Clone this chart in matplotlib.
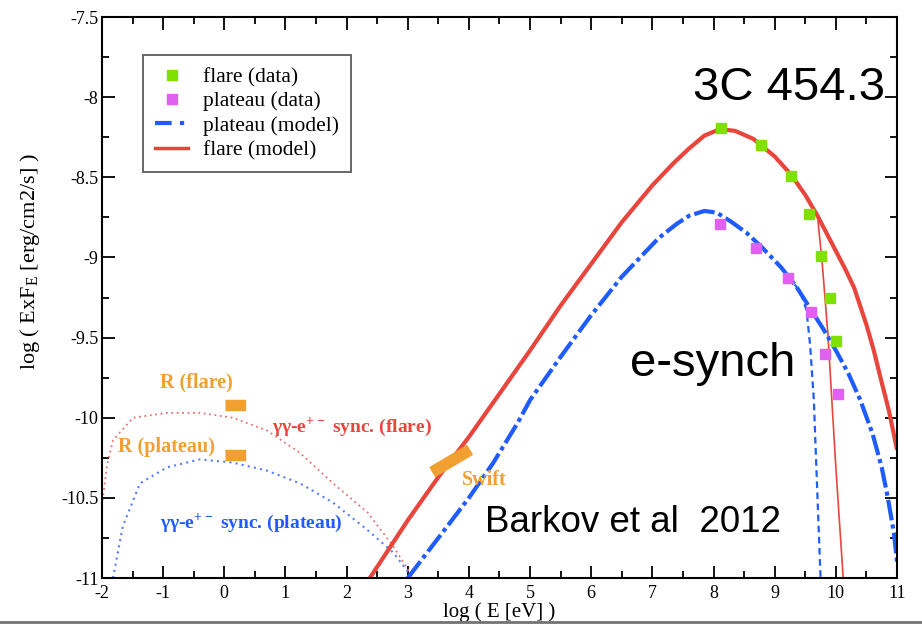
import matplotlib
matplotlib.use("Agg")
from matplotlib import pyplot as plt
from matplotlib.lines import Line2D
from matplotlib.patches import Rectangle

plt.rcParams['mathtext.fontset'] = 'custom'
plt.rcParams['mathtext.rm'] = 'Liberation Serif'
plt.rcParams['mathtext.bf'] = 'Liberation Serif:bold'
plt.rcParams['font.family'] = ['Liberation Serif', 'DejaVu Serif']

# flare model (red solid)
flare_x = [2.38, 3.0, 3.5, 4.0, 4.5, 5.0, 5.5, 6.0, 6.5, 7.0, 7.35, 7.6, 7.85, 8.1, 8.35, 8.65, 9.0, 9.26, 9.5, 9.7, 9.85, 10.0, 10.15, 10.3, 10.5, 10.62, 10.73, 10.87, 11.0]
flare_y = [-11.0, -10.64, -10.37, -10.12, -9.85, -9.58, -9.30, -9.04, -8.78, -8.55, -8.41, -8.32, -8.24, -8.20, -8.21, -8.26, -8.37, -8.48, -8.61, -8.74, -8.85, -8.96, -9.07, -9.19, -9.42, -9.58, -9.75, -9.96, -10.2]
# flare model with cutoff (thin red)
flcut_x = [9.7, 9.78, 9.87, 10.0, 10.12]
flcut_y = [-8.74, -9.05, -9.48, -10.31, -11.0]
# plateau model (blue dash-dot)
plat_x = [3.0, 3.5, 4.0, 4.4, 4.8, 5.0, 5.5, 6.0, 6.5, 7.1, 7.4, 7.6, 7.85, 8.05, 8.3, 8.55, 8.8, 9.1, 9.35, 9.6, 9.8, 10.0, 10.2, 10.4, 10.6, 10.75, 10.85, 10.95, 11.0]
plat_y = [-11.0, -10.75, -10.50, -10.28, -10.03, -9.89, -9.62, -9.36, -9.12, -8.88, -8.79, -8.74, -8.71, -8.72, -8.78, -8.85, -8.94, -9.06, -9.18, -9.33, -9.45, -9.58, -9.72, -9.89, -10.1, -10.31, -10.5, -10.72, -10.9]
# plateau model with cutoff (thin blue dashed)
plcut_x = [9.1, 9.35, 9.45, 9.52, 9.58, 9.64, 9.70, 9.75]
plcut_y = [-9.06, -9.18, -9.25, -9.33, -9.55, -9.89, -10.5, -11.0]
# gamma-gamma pair synchrotron
ggf_x = [-2.0, -1.92, -1.82, -1.49, -0.94, -0.40, 0.14, 0.70, 1.24, 1.78, 2.34, 2.76, 3.04]
ggf_y = [-10.55, -10.3, -10.14, -10.0, -9.97, -9.97, -10.0, -10.08, -10.22, -10.41, -10.59, -10.80, -10.97]
ggp_x = [-1.82, -1.66, -1.38, -0.94, -0.40, 0.14, 0.70, 1.24, 1.78, 2.34, 2.76, 3.04]
ggp_y = [-11.0, -10.68, -10.41, -10.31, -10.26, -10.28, -10.33, -10.41, -10.53, -10.70, -10.84, -10.98]
# data
flare_dx = [8.13, 8.77, 9.26, 9.56, 9.76, 9.91, 10.0]
flare_dy = [-8.19, -8.30, -8.49, -8.73, -8.99, -9.25, -9.52]
plat_dx = [8.11, 8.70, 9.21, 9.59, 9.83, 10.03]
plat_dy = [-8.79, -8.94, -9.13, -9.34, -9.60, -9.85]
radio_x = [0.18, 0.18]
radio_y = [-9.92, -10.23]
swift_x = [3.40, 4.02]
swift_y = [-10.34, -10.20]

red = "#e8453c"
blue = "#1f5cff"
orange = "#f0a030"

fig = plt.figure(figsize=(9.22, 6.28), dpi=100)
ax = fig.add_axes([0.1106, 0.0796, 0.8623, 0.8933])

ax.plot(ggf_x, ggf_y, color="#ec7070", lw=1.3, ls=(0, (1, 2)))
ax.plot(ggp_x, ggp_y, color="#5a7cff", lw=1.5, ls=(0, (1, 2)))
ax.plot(flcut_x, flcut_y, color=red, lw=1.2)
ax.plot(plcut_x, plcut_y, color=blue, lw=1.6, ls=(0, (3, 2)))
ax.plot(flare_x, flare_y, color=red, lw=3, solid_capstyle="butt")
ax.plot(plat_x, plat_y, color=blue, lw=3, ls=(0, (5, 1, 1, 1)))
ax.plot(flare_dx, flare_dy, ls="none", marker="s", ms=7, color="#80e000")
ax.plot(plat_dx, plat_dy, ls="none", marker="s", ms=7, color="#e060f0")
ax.plot(radio_x, radio_y, ls="none", marker=[(-1, -0.5), (1, -0.5), (1, 0.5), (-1, 0.5)], ms=15, color=orange)
ax.plot(swift_x, swift_y, color=orange, lw=8.5, solid_capstyle="butt")

tb = dict(color=orange, fontsize=14.5, fontweight="bold", va="center")
ax.text(-1.05, -9.78, "R (flare)", **tb)
ax.text(-1.74, -10.18, "R (plateau)", **tb)
ax.text(3.89, -10.39, "Swift", **tb)
ax.text(0.78, -10.06, r"γγ-e$^{\mathbf{+-}}$ sync. (flare)", color=red, fontsize=14, fontweight="bold", va="center")
ax.text(-1.05, -10.66, r"γγ-e$^{\mathbf{+-}}$ sync. (plateau)", color=blue, fontsize=14, fontweight="bold", va="center")

big = dict(family="Liberation Sans", color="black", va="baseline", ha="left")
ax.text(7.67, -8.02, "3C 454.3", fontsize=34, **big)
ax.text(6.63, -9.74, "e-synch", fontsize=34, **big)
ax.text(4.27, -10.71, "Barkov et al  2012", fontsize=26.5, **big)

ax.set_xlim(-2, 11)
ax.set_ylim(-11, -7.5)
ax.set_xticks(range(-2, 12))
ax.set_xticks([i / 2 for i in range(-4, 23)], minor=True)
ax.set_yticks([-11, -10.5, -10, -9.5, -9, -8.5, -8, -7.5])
ax.set_yticklabels(["-11", "-10.5", "-10", "-9.5", "-9", "-8.5", "-8", "-7.5"])
ax.set_xticklabels([str(i) for i in range(-2, 12)])
ax.set_yticks([-11 + i / 4 for i in range(15)], minor=True)
ax.tick_params(which="both", direction="in", top=True, right=True, width=1.3, labelsize=13)
ax.tick_params(which="major", length=9)
ax.tick_params(which="minor", length=5)
ax.tick_params(axis="x", which="major", pad=5)
ax.tick_params(axis="y", which="major", pad=2.5)
for s in ax.spines.values():
    s.set_linewidth(1.5)

ax.set_xlabel("log ( E [eV] )", fontsize=15, labelpad=0)
fig.text(0.032, 0.583, r"log ( ExF$_{\rm E}$ [erg/cm2/s] )", rotation=90, fontsize=16, ha="center", va="center")

handles = [
    Line2D([], [], ls="none", marker="s", ms=7, color="#80e000"),
    Line2D([], [], ls="none", marker="s", ms=7, color="#e060f0"),
    Line2D([], [], color=blue, lw=3, ls=(0, (4, 2, 1, 2))),
    Line2D([], [], color=red, lw=2.5),
]
leg = ax.legend(handles, ["flare (data)", "plateau (data)", "plateau (model)", "flare (model)"],
                loc="upper left", bbox_to_anchor=(0.0516, 0.932), borderaxespad=0, fontsize=15.5,
                frameon=True, fancybox=False, edgecolor="0.2", labelspacing=0.2, handlelength=1.55,
                borderpad=0.55, handletextpad=0.7)
leg.get_frame().set_linewidth(1.3)

# slide edge at the bottom
fig.patches.append(Rectangle((0, 0), 1, 0.009, transform=fig.transFigure, color="white", zorder=10))
fig.lines.append(Line2D([0, 1], [0.01, 0.01], transform=fig.transFigure, color="0.45", lw=2, zorder=11))

fig.savefig("out.png", dpi=100)
